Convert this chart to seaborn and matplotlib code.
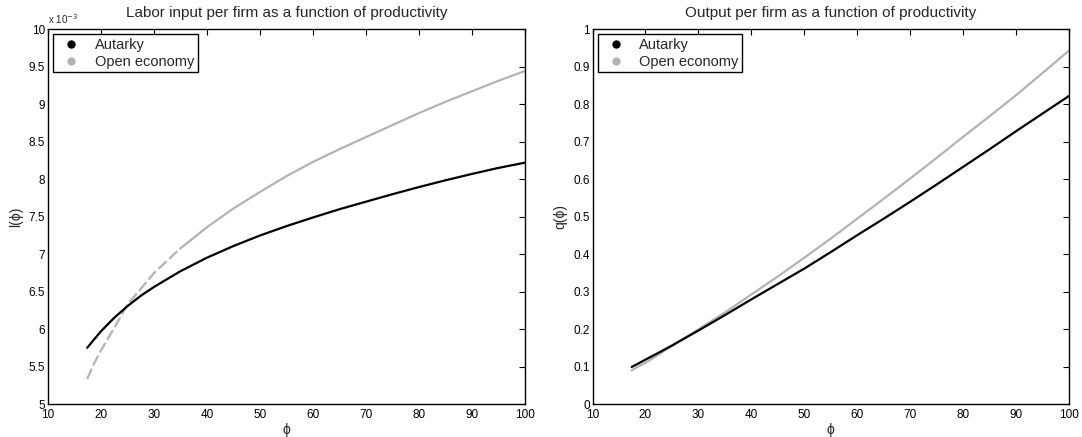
import numpy as np
import pandas as pd
import matplotlib
matplotlib.use("Agg")
import matplotlib.pyplot as plt
from matplotlib.lines import Line2D
import seaborn as sns

# ---- data ----
phi = [17.4, 18.5, 20, 22.5, 25, 27.5, 30, 35, 40, 45, 50, 55, 60, 65, 70, 75, 80, 85, 90, 95, 100]
labor_autarky = [5.755, 5.85, 5.975, 6.155, 6.31, 6.447, 6.565, 6.775, 6.955, 7.11, 7.25, 7.375,
                 7.49, 7.60, 7.70, 7.80, 7.895, 7.985, 8.07, 8.15, 8.22]          # x 1e-3
labor_open = [5.34, 5.52, 5.72, 6.02, 6.33, 6.54, 6.75, 7.08, 7.36, 7.61, 7.83, 8.04,
              8.23, 8.40, 8.56, 8.72, 8.88, 9.03, 9.17, 9.31, 9.44]              # x 1e-3
output_autarky = [0.100, 0.108, 0.1195, 0.138, 0.157, 0.177, 0.197, 0.238, 0.280, 0.321,
                  0.362, 0.406, 0.451, 0.495, 0.540, 0.586, 0.633, 0.680, 0.728, 0.775, 0.822]
output_open = [0.091, 0.100, 0.111, 0.133, 0.156, 0.178, 0.200, 0.245, 0.293, 0.341,
               0.391, 0.442, 0.495, 0.548, 0.602, 0.657, 0.713, 0.768, 0.824, 0.883, 0.943]

x_ticks = [10, 20, 30, 40, 50, 60, 70, 80, 90, 100]
left_yticks = [5, 5.5, 6, 6.5, 7, 7.5, 8, 8.5, 9, 9.5, 10]
left_ylabels = ["5", "5.5", "6", "6.5", "7", "7.5", "8", "8.5", "9", "9.5", "10"]
right_yticks = [0, 0.1, 0.2, 0.3, 0.4, 0.5, 0.6, 0.7, 0.8, 0.9, 1]
right_ylabels = ["0", "0.1", "0.2", "0.3", "0.4", "0.5", "0.6", "0.7", "0.8", "0.9", "1"]
series_names = ["Autarky", "Open economy"]

sns.set_style("white")
plt.rcParams["font.family"] = ["Liberation Sans", "DejaVu Sans"]

BLACK = "#000000"
GREY = "#b3b3b3"

fig = plt.figure(figsize=(10.82, 4.37), dpi=100)
axL = fig.add_axes([0.0444, 0.0744, 0.4404, 0.859])
axR = fig.add_axes([0.5476, 0.0744, 0.4404, 0.859])

df_l = pd.DataFrame({"phi": phi, "aut": labor_autarky, "open": labor_open})
df_q = pd.DataFrame({"phi": phi, "aut": output_autarky, "open": output_open})

# left panel
steep = df_l[df_l["phi"] <= 35]
flat = df_l[df_l["phi"] >= 35]
sns.lineplot(data=steep, x="phi", y="open", ax=axL, color=GREY, lw=1.6,
             linestyle=(0, (5, 1.6)), sort=False)
sns.lineplot(data=flat, x="phi", y="open", ax=axL, color=GREY, lw=1.6, sort=False)
sns.lineplot(data=df_l, x="phi", y="aut", ax=axL, color=BLACK, lw=1.6, sort=False)

# right panel
sns.lineplot(data=df_q, x="phi", y="open", ax=axR, color=GREY, lw=1.6, sort=False)
sns.lineplot(data=df_q, x="phi", y="aut", ax=axR, color=BLACK, lw=1.6, sort=False)

def style(ax, yticks, ylabels, ylim, title, ylabel):
    ax.set_xlim(10, 100)
    ax.set_ylim(*ylim)
    ax.set_xticks(x_ticks)
    ax.set_xticklabels([str(t) for t in x_ticks])
    ax.set_yticks(yticks)
    ax.set_yticklabels(ylabels)
    ax.tick_params(direction="in", length=4, width=0.8, top=True, right=True,
                   labelsize=8.5, pad=2, colors="black")
    ax.tick_params(axis="x", pad=3.5)
    for s in ax.spines.values():
        s.set_visible(True)
        s.set_color("black")
        s.set_linewidth(1.0)
    ax.set_title(title, fontsize=11, pad=9)
    ax.set_xlabel("ϕ", fontsize=10, labelpad=1)
    ax.set_ylabel(ylabel, fontsize=10, labelpad=4)
    handles = [Line2D([], [], marker="o", ls="none", color=BLACK, markersize=5),
               Line2D([], [], marker="o", ls="none", color=GREY, markersize=5)]
    leg = ax.legend(handles, series_names, loc="upper left", fontsize=10.5,
                    frameon=True, fancybox=False, borderaxespad=0.35,
                    handletextpad=0.6, borderpad=0.25, labelspacing=0.2,
                    handlelength=2.0)
    leg.get_frame().set_edgecolor("black")
    leg.get_frame().set_linewidth(1.0)
    leg.get_frame().set_alpha(1)

style(axL, left_yticks, left_ylabels, (5, 10),
      "Labor input per firm as a function of productivity", "l(ϕ)")
style(axR, right_yticks, right_ylabels, (0, 1),
      "Output per firm as a function of productivity", "q(ϕ)")

axL.text(0.0, 1.008, "x 10$^{-3}$", transform=axL.transAxes, fontsize=7,
         ha="left", va="bottom")

fig.savefig("out.png", dpi=100)
